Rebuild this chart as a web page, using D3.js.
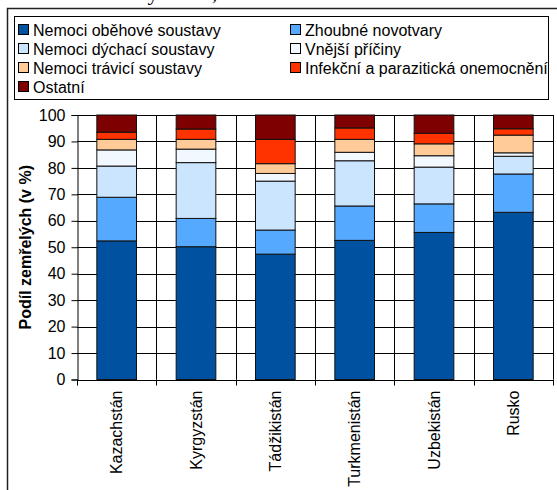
<!DOCTYPE html>
<html>
<head>
<meta charset="utf-8">
<script src="https://cdn.jsdelivr.net/npm/d3@7"></script>
<style>
  body { margin: 0; background: #fff; }
  svg { display: block; font-family: Arial, "Liberation Sans", sans-serif; }
</style>
</head>
<body>
<div id="chart"></div>
<script>
const countries = ["Kazachstán", "Kyrgyzstán", "Tádžikistán", "Turkmenistán", "Uzbekistán", "Rusko"];
const causes = [
  "Nemoci oběhové soustavy", "Zhoubné novotvary", "Nemoci dýchací soustavy", "Vnější příčiny",
  "Nemoci trávicí soustavy", "Infekční a parazitická onemocnění", "Ostatní"
];
const colors = ["#0052a0", "#55aaff", "#cce5ff", "#f2f8ff", "#ffcc99", "#ff3300", "#7f0000"];

// share of deaths (%) per cause, one value per country
const obehove   = [52.4, 50.2, 47.4, 52.6, 55.6, 63.2];
const zhoubne   = [16.5, 10.7,  9.1, 13.0, 10.8, 14.5];
const dychaci   = [11.8, 21.1, 18.5, 17.1, 13.9,  6.7];
const vnejsi    = [ 6.1,  5.1,  2.9,  3.2,  4.3,  1.3];
const travici   = [ 4.0,  3.7,  3.7,  4.9,  4.5,  6.7];
const infekcni  = [ 2.7,  3.9,  9.2,  4.3,  4.0,  2.4];
const ostatni   = [ 6.5,  5.3,  9.2,  4.9,  6.9,  5.2];
const yTicks = [0, 10, 20, 30, 40, 50, 60, 70, 80, 90, 100];

const series = [obehove, zhoubne, dychaci, vnejsi, travici, infekcni, ostatni];
const rows = countries.map(function (c, i) {
  const r = {country: c};
  causes.forEach(function (k, j) { r[k] = series[j][i]; });
  return r;
});

const W = 557, H = 490;
const plot = {left: 77, right: 553, top: 115, bottom: 379.5};

const svg = d3.select("#chart").append("svg")
  .attr("width", W)
  .attr("height", H);

// fragment of the page title above the frame (cut off by the top edge, as in the source)
svg.append("text")
  .attr("x", 95)
  .attr("y", 0)
  .attr("font-family", "'Liberation Serif', 'Times New Roman', serif")
  .attr("font-size", 22)
  .attr("fill", "#000")
  .text("Příčiny úmrtí, 2002");

// outer frame (only top and left edges visible)
svg.append("path")
  .attr("d", "M7.5,490 L7.5,8.5 L557,8.5")
  .attr("fill", "none")
  .attr("stroke", "#222")
  .attr("stroke-width", 1.5);

const x = d3.scaleBand()
  .domain(countries)
  .range([plot.left, plot.right])
  .paddingInner(0.5)
  .paddingOuter(0.25);

const y = d3.scaleLinear()
  .domain([0, 100])
  .range([plot.bottom, plot.top]);

const step = x.step();
const bounds = d3.range(countries.length + 1).map(function (i) { return plot.left + i * step; });

// grid
const grid = svg.append("g").attr("class", "grid");
grid.selectAll("line.h")
  .data(yTicks.slice(1))
  .join("line")
  .attr("class", "h")
  .attr("x1", plot.left).attr("x2", plot.right)
  .attr("y1", function (d) { return Math.round(y(d)) + 0.5; })
  .attr("y2", function (d) { return Math.round(y(d)) + 0.5; })
  .attr("stroke", "#000");
grid.selectAll("line.v")
  .data(bounds.slice(1))
  .join("line")
  .attr("class", "v")
  .attr("x1", function (d) { return Math.round(d) + 0.5; })
  .attr("x2", function (d) { return Math.round(d) + 0.5; })
  .attr("y1", plot.top).attr("y2", plot.bottom)
  .attr("stroke", "#000");

// stacked bars
const stack = d3.stack().keys(causes);
const layers = stack(rows);

svg.append("g")
  .selectAll("g")
  .data(layers)
  .join("g")
  .attr("fill", function (d, i) { return colors[i]; })
  .selectAll("rect")
  .data(function (d) { return d; })
  .join("rect")
  .attr("x", function (d) { return x(d.data.country); })
  .attr("width", x.bandwidth())
  .attr("y", function (d) { return y(d[1]); })
  .attr("height", function (d) { return y(d[0]) - y(d[1]); })
  .attr("stroke", "#111")
  .attr("stroke-width", 1);

// y axis
const yAxis = svg.append("g")
  .attr("transform", "translate(" + (plot.left + 0.5) + ",0)")
  .call(d3.axisLeft(y).tickValues(yTicks).tickSize(6).tickPadding(6));
yAxis.select(".domain").attr("stroke", "#000");
yAxis.selectAll(".tick line").attr("stroke", "#000");
yAxis.selectAll("text")
  .attr("font-size", 16)
  .attr("font-family", "Arial, 'Liberation Sans', sans-serif")
  .attr("fill", "#000");

// x axis line and boundary ticks
const xg = svg.append("g");
xg.append("line")
  .attr("x1", plot.left).attr("x2", plot.right)
  .attr("y1", Math.round(plot.bottom) + 0.5).attr("y2", Math.round(plot.bottom) + 0.5)
  .attr("stroke", "#000");
xg.selectAll("line.tick")
  .data(bounds)
  .join("line")
  .attr("class", "tick")
  .attr("x1", function (d) { return Math.round(d) + 0.5; })
  .attr("x2", function (d) { return Math.round(d) + 0.5; })
  .attr("y1", plot.bottom).attr("y2", plot.bottom + 6)
  .attr("stroke", "#000");
xg.selectAll("text")
  .data(countries)
  .join("text")
  .attr("transform", function (d) {
    return "translate(" + (x(d) + x.bandwidth() / 2) + "," + (plot.bottom + 11) + ") rotate(-90)";
  })
  .attr("text-anchor", "end")
  .attr("dy", "0.35em")
  .attr("font-size", 16)
  .attr("fill", "#000")
  .text(function (d) { return d; });

// y label
svg.append("text")
  .attr("transform", "translate(25," + ((plot.top + plot.bottom) / 2) + ") rotate(-90)")
  .attr("text-anchor", "middle")
  .attr("dy", "0.35em")
  .attr("font-size", 16)
  .attr("font-weight", "bold")
  .text("Podíl zemřelých (v %)");

// legend
const legend = svg.append("g");
legend.append("rect")
  .attr("x", 14.5).attr("y", 16.5)
  .attr("width", 534).attr("height", 83)
  .attr("fill", "#fff")
  .attr("stroke", "#000");
const item = legend.selectAll("g.item")
  .data(causes)
  .join("g")
  .attr("class", "item")
  .attr("transform", function (d, i) {
    return "translate(" + (i % 2 === 0 ? 18 : 290) + "," + (30 + Math.floor(i / 2) * 19) + ")";
  });
item.append("rect")
  .attr("x", 0.5).attr("y", -5.5)
  .attr("width", 10).attr("height", 10)
  .attr("fill", function (d, i) { return colors[i]; })
  .attr("stroke", "#000");
item.append("text")
  .attr("x", 15)
  .attr("dy", "0.35em")
  .attr("font-size", 16)
  .text(function (d) { return d; });
</script>
</body>
</html>
